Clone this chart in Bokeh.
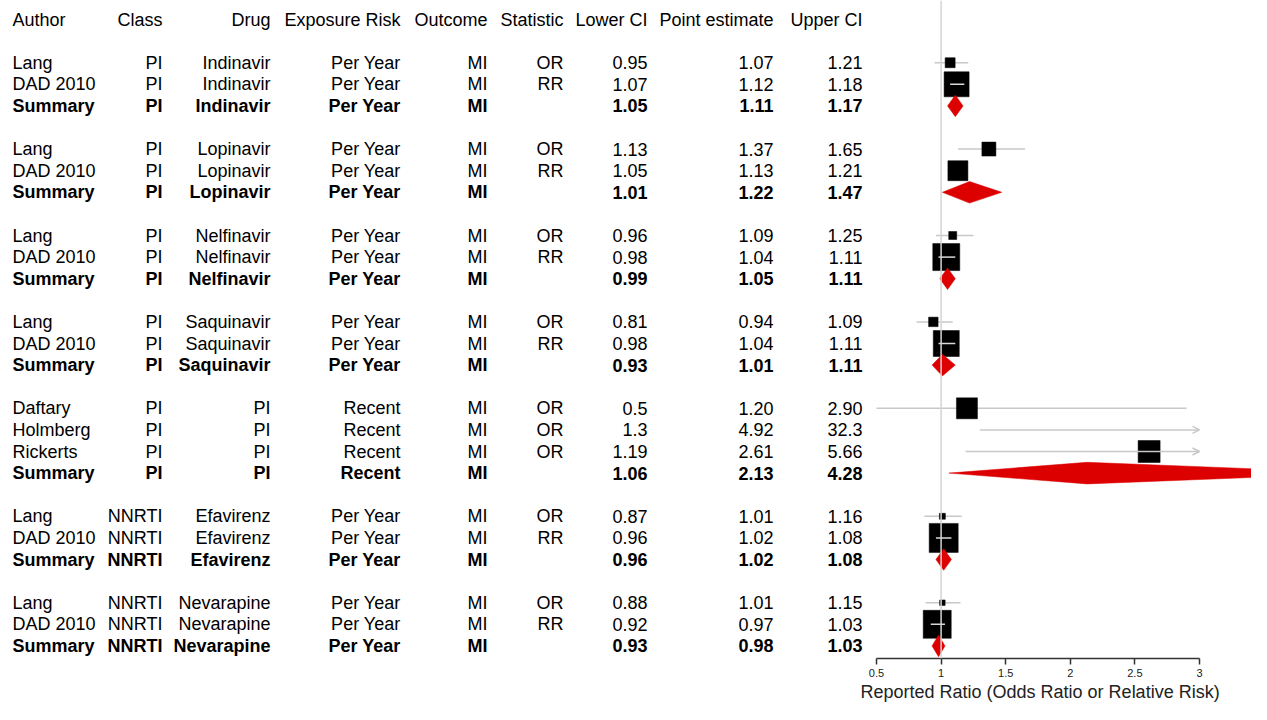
from bokeh.plotting import figure
from bokeh.models import (Range1d, LinearAxis, FixedTicker, NumeralTickFormatter,
                          ColumnDataSource, Span, Arrow, OpenHead, Title)
from bokeh.core.properties import value
from bokeh.embed import file_html
from bokeh.resources import INLINE

# ---------------- data ----------------
headers = ["Author", "Class", "Drug", "Exposure Risk", "Outcome", "Statistic",
           "Lower CI", "Point estimate", "Upper CI"]

group_sizes = [3, 3, 3, 3, 4, 3, 3]

author = ["Lang", "DAD 2010", "Summary",
          "Lang", "DAD 2010", "Summary",
          "Lang", "DAD 2010", "Summary",
          "Lang", "DAD 2010", "Summary",
          "Daftary", "Holmberg", "Rickerts", "Summary",
          "Lang", "DAD 2010", "Summary",
          "Lang", "DAD 2010", "Summary"]
drug_class = ["PI"] * 16 + ["NNRTI"] * 6
drug = ["Indinavir"] * 3 + ["Lopinavir"] * 3 + ["Nelfinavir"] * 3 + ["Saquinavir"] * 3 + \
       ["PI"] * 4 + ["Efavirenz"] * 3 + ["Nevarapine"] * 3
exposure = ["Per Year"] * 12 + ["Recent"] * 4 + ["Per Year"] * 6
outcome = ["MI"] * 22
statistic = ["OR", "RR", "", "OR", "RR", "", "OR", "RR", "", "OR", "RR", "",
             "OR", "OR", "OR", "", "OR", "RR", "", "OR", "RR", ""]
lower_txt = ["0.95", "1.07", "1.05", "1.13", "1.05", "1.01", "0.96", "0.98", "0.99",
             "0.81", "0.98", "0.93", "0.5", "1.3", "1.19", "1.06", "0.87", "0.96", "0.96",
             "0.88", "0.92", "0.93"]
point_txt = ["1.07", "1.12", "1.11", "1.37", "1.13", "1.22", "1.09", "1.04", "1.05",
             "0.94", "1.04", "1.01", "1.20", "4.92", "2.61", "2.13", "1.01", "1.02", "1.02",
             "1.01", "0.97", "0.98"]
upper_txt = ["1.21", "1.18", "1.17", "1.65", "1.21", "1.47", "1.25", "1.11", "1.11",
             "1.09", "1.11", "1.11", "2.90", "32.3", "5.66", "4.28", "1.16", "1.08", "1.08",
             "1.15", "1.03", "1.03"]
# relative study weight (box size); summary rows have none
weight = [0.10, 0.25, 0, 0.14, 0.20, 0, 0.08, 0.27, 0, 0.095, 0.26, 0,
          0.21, 0.21, 0.22, 0, 0.06, 0.29, 0, 0.055, 0.28, 0]

x_ticks = [0.5, 1, 1.5, 2, 2.5, 3]
axis_title = "Reported Ratio (Odds Ratio or Relative Risk)"

lower = [float(s) for s in lower_txt]
point = [float(s) for s in point_txt]
upper = [float(s) for s in upper_txt]
is_summary = [a == "Summary" for a in author]

# ---------------- layout helpers ----------------
W, H = 1251, 704
PXU = 129.2                   # pixels per ratio unit
X_AT_05 = 876                 # pixel of x=0.5
def px2x(px):
    return 0.5 + (px - X_AT_05) / PXU

ROW_H = 21.6
ROW0 = 19                     # px of header row center
BOTTOM = 46                   # height reserved for axis + title
frame_h = H - BOTTOM

x_start = px2x(0)
x_end = px2x(W)
y_top = -ROW0 / ROW_H
y_bot = (frame_h - ROW0) / ROW_H

rows = []
r = 2
for g in group_sizes:
    for _ in range(g):
        rows.append(r)
        r += 1
    r += 1

p = figure(width=W, height=H, x_range=Range1d(x_start, x_end),
           y_range=Range1d(y_bot, y_top), x_axis_location=None, y_axis_location=None,
           toolbar_location=None, output_backend="svg", min_border=0,
           min_border_bottom=BOTTOM, outline_line_color=None,
           background_fill_color="white")
p.xgrid.visible = False
p.ygrid.visible = False
p.grid.grid_line_color = None

FONT = value("Liberation Sans")
FS = "18px"

col_px = [12, 162, 270, 400, 487, 563, 647, 773, 862]
col_align = ["left"] + ["right"] * 8
columns = [author, drug_class, drug, exposure, outcome, statistic,
           lower_txt, point_txt, upper_txt]

for i, h in enumerate(headers):
    p.text(x=[px2x(col_px[i])], y=[0], text=[h], text_font=FONT, text_font_size=FS,
           text_align=col_align[i], text_baseline="middle", text_color="black")

for ci, col in enumerate(columns):
    for bold in (False, True):
        idx = [k for k in range(len(author)) if is_summary[k] == bold]
        src = ColumnDataSource(dict(x=[px2x(col_px[ci])] * len(idx),
                                    y=[rows[k] for k in idx],
                                    t=[col[k] for k in idx]))
        p.text(x="x", y="y", text="t", source=src, text_font=FONT, text_font_size=FS,
               text_align=col_align[ci], text_baseline="middle", text_color="black",
               text_font_style="bold" if bold else "normal")

# reference line at 1
p.add_layout(Span(location=1, dimension="height", line_color="#d4d4d4", line_width=1.5))

XMAX = x_ticks[-1]
study = [k for k in range(len(author)) if not is_summary[k]]

seg = [k for k in study if upper[k] <= XMAX]
arr = [k for k in study if upper[k] > XMAX]
p.segment(x0=[lower[k] for k in seg], x1=[upper[k] for k in seg],
          y0=[rows[k] for k in seg], y1=[rows[k] for k in seg],
          line_color="#c8c8c8", line_width=1.5)
arr_src = ColumnDataSource(dict(x0=[lower[k] for k in arr], x1=[XMAX] * len(arr),
                                y=[rows[k] for k in arr]))
p.add_layout(Arrow(x_start="x0", y_start="y", x_end="x1", y_end="y", source=arr_src,
                   line_color="#c8c8c8", line_width=1.5,
                   end=OpenHead(size=7, line_color="#c8c8c8", line_width=1.5)))

box = [k for k in study if point[k] <= XMAX]
sizes = [weight[k] * 100 for k in box]
p.scatter(x=[point[k] for k in box], y=[rows[k] for k in box], size=sizes,
          marker="square", fill_color="black", line_color="black", line_width=0.5)

inside = [k for k, s in zip(box, sizes)
          if lower[k] >= point[k] - s / 2 / PXU and upper[k] <= point[k] + s / 2 / PXU]
p.segment(x0=[lower[k] for k in inside], x1=[upper[k] for k in inside],
          y0=[rows[k] for k in inside], y1=[rows[k] for k in inside],
          line_color="#d8d8d8", line_width=1.5)

summ = [k for k in range(len(author)) if is_summary[k]]
xs = [[lower[k], point[k], upper[k], point[k]] for k in summ]
ys = [[rows[k], rows[k] - 0.5, rows[k], rows[k] + 0.5] for k in summ]
p.patches(xs=xs, ys=ys, fill_color="#dd0000", line_color="#dd0000", line_width=0.5)

ax = LinearAxis(ticker=FixedTicker(ticks=x_ticks), bounds=(x_ticks[0], x_ticks[-1]),
                formatter=NumeralTickFormatter(format="0.[0]"))
ax.axis_line_color = "#333333"
ax.axis_line_width = 1.5
ax.major_tick_line_color = "#333333"
ax.major_tick_line_width = 1.5
ax.major_tick_out = 6
ax.major_tick_in = 0
ax.minor_tick_line_color = None
ax.major_label_text_font = "Liberation Sans"
ax.major_label_text_font_size = "11px"
ax.major_label_text_color = "#222222"
ax.major_label_standoff = 4
p.add_layout(ax, "below")

t = Title(text=axis_title, align="left", offset=860, standoff=0, text_font_size="18px",
          text_font_style="normal", text_font="Liberation Sans", text_color="#222222")
p.add_layout(t, "below")

open("out.html", "w").write(file_html(p, INLINE))
